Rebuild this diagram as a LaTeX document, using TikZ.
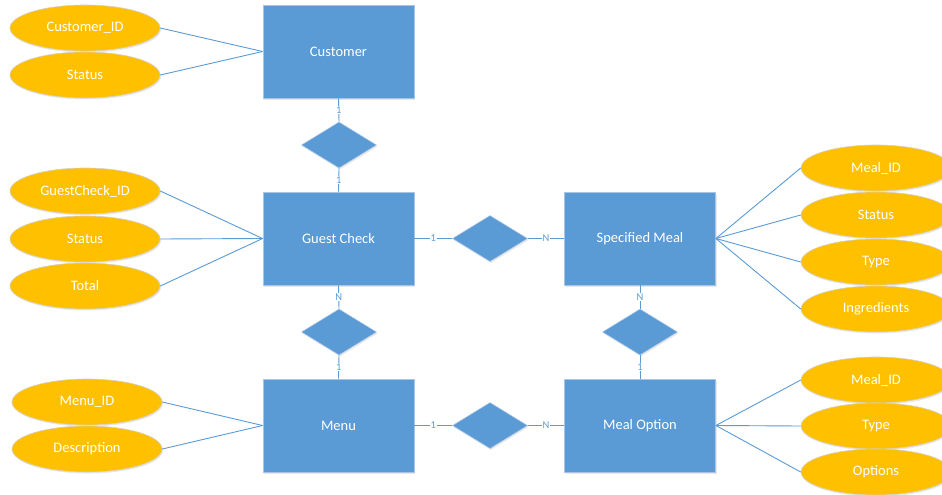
\documentclass[tikz,border=0pt]{standalone}
\usepackage{fontspec}
\setmainfont{Carlito}
\usetikzlibrary{shapes.geometric,shadows}
\definecolor{entblue}{HTML}{5B9BD5}
\definecolor{entedge}{HTML}{A9C5E6}
\definecolor{attrgold}{HTML}{FFC000}
\definecolor{attredge}{HTML}{D6D0C0}
\begin{document}
\begin{tikzpicture}[x=1pt,y=-1pt,
  lbl/.style={text=white,font=\fontsize{14.5}{17}\selectfont},
  entity/.style={lbl,rectangle,fill=entblue,draw=entedge,line width=0.8pt,
    minimum width=151pt,minimum height=93pt,inner sep=0pt,
    drop shadow={opacity=0.18,shadow xshift=1pt,shadow yshift=-1.5pt}},
  attr/.style={lbl,ellipse,fill=attrgold,draw=attredge,line width=0.6pt,
    minimum width=150pt,minimum height=46pt,inner sep=0pt,
    drop shadow={opacity=0.18,shadow xshift=1pt,shadow yshift=-1.5pt}},
  rel/.style={diamond,fill=entblue,draw=entedge,line width=0.5pt,
    minimum width=75pt,minimum height=46pt,inner sep=0pt,
    drop shadow={opacity=0.18,shadow xshift=1pt,shadow yshift=-1.5pt}},
  link/.style={draw=entblue,line width=0.9pt},
  card/.style={fill=white,text=entblue,inner sep=0.8pt,
    font=\fontsize{10.5}{11}\selectfont}]
\clip (0,0) rectangle (942,495);
\fill[white] (0,0) rectangle (942,495);

% entities
\node[entity] (cust) at (338.5,51.5)  {Customer};
\node[entity] (gc)   at (338.5,238.5) {Guest Check};
\node[entity] (sm)   at (640,238.5)   {Specified Meal};
\node[entity] (menu) at (338.5,425.5) {Menu};
\node[entity] (mo)   at (640,425.5)   {Meal Option};

% relationships
\node[rel] (r1) at (339,145) {};
\node[rel] (r2) at (490,238.5) {};
\node[rel] (r3) at (339,332) {};
\node[rel] (r4) at (640,332) {};
\node[rel] (r5) at (490,425.5) {};

% attributes
\node[attr] (cid)  at (85,28)   {Customer\_ID};
\node[attr] (cst)  at (85,75)   {Status};
\node[attr] (gid)  at (85,191)  {GuestCheck\_ID};
\node[attr] (gst)  at (85,239)  {Status};
\node[attr] (gtot) at (85,286)  {Total};
\node[attr] (mid)  at (87,402)  {Menu\_ID};
\node[attr] (mdes) at (87,449)  {Description};
\node[attr] (smid) at (876,168) {Meal\_ID};
\node[attr] (sst)  at (876,215) {Status};
\node[attr] (styp) at (876,262) {Type};
\node[attr] (sing) at (876,309) {Ingredients};
\node[attr] (oid)  at (876,380) {Meal\_ID};
\node[attr] (otyp) at (876,426) {Type};
\node[attr] (oopt) at (876,472) {Options};

% attribute links
\foreach \a in {cid,cst} \draw[link] (\a.east) -- (cust.west);
\foreach \a in {gid,gst,gtot} \draw[link] (\a.east) -- (gc.west);
\foreach \a in {mid,mdes} \draw[link] (\a.east) -- (menu.west);
\foreach \a in {smid,sst,styp,sing} \draw[link] (sm.east) -- (\a.west);
\foreach \a in {oid,otyp,oopt} \draw[link] (mo.east) -- (\a.west);

% relationship links with cardinalities
\draw[link] (cust.south) -- node[card]{1} (r1.north);
\draw[link] (r1.south) -- node[card]{1} (gc.north);
\draw[link] (gc.east) -- node[card]{1} (r2.west);
\draw[link] (r2.east) -- node[card]{N} (sm.west);
\draw[link] (gc.south) -- node[card]{N} (r3.north);
\draw[link] (r3.south) -- node[card]{1} (menu.north);
\draw[link] (sm.south) -- node[card]{N} (r4.north);
\draw[link] (r4.south) -- node[card]{1} (mo.north);
\draw[link] (menu.east) -- node[card]{1} (r5.west);
\draw[link] (r5.east) -- node[card]{N} (mo.west);
\end{tikzpicture}
\end{document}
